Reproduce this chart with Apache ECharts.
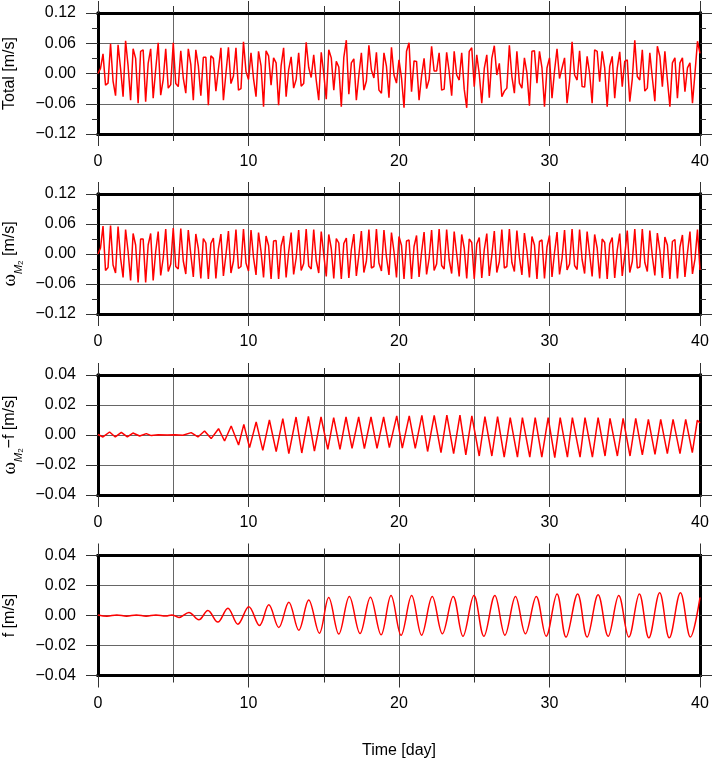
<!DOCTYPE html>
<html><head><meta charset="utf-8">
<script src="https://cdn.jsdelivr.net/npm/echarts@6/dist/echarts.min.js"></script>
<style>html,body{margin:0;padding:0;background:#fff}#c{width:714px;height:764px}</style>
</head><body><div id="c"></div>
<script>
// ---------------- data ----------------
const sampleStepDays = 4 / 24; // panels 1-2 are sampled every 4 hours
const xTickLabels = [0, 10, 20, 30, 40];
const upperTickLabels = [-0.12, -0.06, 0.00, 0.06, 0.12];
const lowerTickLabels = [-0.04, -0.02, 0.00, 0.02, 0.04];

const totalValues = [
 0.000, 0.010, 0.039,-0.023,-0.019, 0.059,-0.015,-0.044, 0.057, 0.010,
-0.046, 0.065, 0.015,-0.053, 0.049, 0.030,-0.059, 0.044, 0.047,-0.056,
 0.020, 0.049,-0.049, 0.008, 0.061,-0.043,-0.012, 0.049,-0.029,-0.022,
 0.061,-0.020,-0.026, 0.045,-0.009,-0.039, 0.049, 0.018,-0.053, 0.047,
 0.015,-0.044, 0.032, 0.032,-0.063, 0.035, 0.030,-0.035, 0.008, 0.051,
-0.053, 0.000, 0.052,-0.020,-0.005, 0.051,-0.033,-0.030, 0.063, 0.004,
-0.012, 0.041,-0.010,-0.046, 0.044, 0.015,-0.066, 0.045, 0.035,-0.023,
 0.031, 0.021,-0.063, 0.015, 0.051,-0.046, 0.007, 0.033,-0.029,-0.012,
 0.041,-0.025,-0.020, 0.062, 0.012,-0.008, 0.037,-0.013,-0.053, 0.042,
 0.000,-0.051, 0.047, 0.031,-0.033, 0.024, 0.013,-0.066, 0.032, 0.066,
-0.041, 0.021, 0.029,-0.053,-0.003, 0.041,-0.033,-0.015, 0.056, 0.007,
-0.009, 0.042,-0.033,-0.039, 0.041, 0.014,-0.048, 0.052,-0.003,-0.019,
 0.027,-0.009,-0.068, 0.044, 0.061,-0.036, 0.025, 0.024,-0.053,-0.005,
 0.030,-0.030,-0.012, 0.054, 0.005, 0.005, 0.041,-0.033,-0.031, 0.042,
 0.004,-0.044, 0.044,-0.003,-0.013, 0.041,-0.031,-0.068, 0.044, 0.051,
-0.026, 0.037,-0.001,-0.059, 0.010, 0.037,-0.048, 0.030, 0.055,-0.003,
 0.020,-0.046,-0.035,-0.029, 0.056,-0.006,-0.039, 0.044,-0.019,-0.029,
 0.031, 0.001,-0.064, 0.044, 0.045,-0.019, 0.044, 0.011,-0.066, 0.011,
 0.031,-0.049, 0.005, 0.049,-0.010, 0.011, 0.031,-0.059,-0.015, 0.063,
-0.003,-0.013, 0.045,-0.026,-0.027, 0.034, 0.000,-0.059, 0.047, 0.044,
-0.016, 0.044, 0.011,-0.066, 0.014, 0.034,-0.049, 0.010, 0.043,-0.026,
 0.024, 0.027,-0.056,-0.011, 0.066,-0.006,-0.013, 0.047,-0.035,-0.029,
 0.041,-0.009,-0.055, 0.054, 0.034,-0.026, 0.044,-0.013,-0.066, 0.021,
 0.031,-0.049, 0.021, 0.031,-0.036, 0.011, 0.021,-0.059, 0.001, 0.064,
 0.040
];

const omegaM2Values = [
 0.000, 0.012, 0.056,-0.033,-0.027, 0.057,-0.022,-0.038, 0.055,-0.008,
-0.047, 0.049, 0.005,-0.053, 0.041, 0.018,-0.057, 0.030, 0.030,-0.057,
 0.018, 0.041,-0.053, 0.005, 0.045,-0.043,-0.008, 0.050,-0.035,-0.020,
 0.052,-0.025,-0.030, 0.051,-0.014,-0.040, 0.048,-0.001,-0.046, 0.040,
 0.011,-0.049, 0.031, 0.022,-0.050, 0.021, 0.032,-0.049, 0.010, 0.040,
-0.044,-0.002, 0.046,-0.038,-0.014, 0.049,-0.029,-0.025, 0.050,-0.018,
-0.034, 0.048,-0.007,-0.042, 0.043, 0.005,-0.047, 0.036, 0.017,-0.050,
 0.026, 0.027,-0.050, 0.016, 0.036,-0.047, 0.004, 0.043,-0.041,-0.008,
 0.048,-0.033,-0.019, 0.050,-0.024,-0.030, 0.049,-0.013,-0.038, 0.045,
-0.001,-0.045, 0.039, 0.011,-0.049, 0.031, 0.022,-0.050, 0.021, 0.032,
-0.048, 0.009, 0.040,-0.044,-0.002, 0.046,-0.037,-0.014, 0.049,-0.028,
-0.025, 0.050,-0.018,-0.034, 0.048,-0.006,-0.042, 0.043, 0.005,-0.047,
 0.035, 0.017,-0.050, 0.026, 0.028,-0.050, 0.015, 0.037,-0.046, 0.003,
 0.044,-0.041,-0.009, 0.048,-0.033,-0.020, 0.050,-0.023,-0.030, 0.049,
-0.012,-0.039, 0.045, 0.000,-0.045, 0.039, 0.012,-0.049, 0.030, 0.023,
-0.050, 0.020, 0.033,-0.048, 0.009, 0.041,-0.044,-0.003, 0.046,-0.037,
-0.015, 0.049,-0.028,-0.025, 0.050,-0.017,-0.035, 0.047,-0.006,-0.042,
 0.042, 0.006,-0.047, 0.035, 0.018,-0.050, 0.025, 0.028,-0.049, 0.014,
 0.037,-0.046, 0.003, 0.044,-0.041,-0.009, 0.048,-0.032,-0.020, 0.050,
-0.023,-0.031, 0.049,-0.011,-0.039, 0.045, 0.000,-0.045, 0.039, 0.012,
-0.049, 0.030, 0.023,-0.050, 0.020, 0.033,-0.048, 0.008, 0.041,-0.044,
-0.003, 0.047,-0.037,-0.015, 0.050,-0.028,-0.026, 0.050,-0.017,-0.035,
 0.047,-0.005,-0.043, 0.042, 0.007,-0.048, 0.034, 0.018,-0.050, 0.025,
 0.029,-0.049, 0.014, 0.038,-0.046, 0.002, 0.045,-0.040,-0.010, 0.049,
-0.032
];

const omegaMinusF = [
[0,0.0003],[0.33,-0.0013],[0.77,0.0020],[1.15,-0.0013],[1.55,0.0018],[1.95,-0.0013],[2.32,0.0013],[2.77,-0.0007],
[3.21,0.0009],[3.54,-0.0004],[4.0,0.0002],[4.6,0.0000],[5.1,0.0002],[5.64,-0.0002],[6.19,0.0016],[6.64,-0.0013],
[7.08,0.0027],[7.52,-0.0024],[8.01,0.0042],[8.41,-0.0040],[8.85,0.0060],[9.34,-0.0067],[9.69,0.0071],[10.07,-0.0084],
[10.51,0.0087],[10.95,-0.0102],[11.39,0.0100],[11.84,-0.0111],[12.28,0.0109],[12.68,-0.0124],[13.16,0.0120],[13.54,-0.0120],
[13.98,0.0124],[14.38,-0.0107],[14.82,0.0120],[15.27,-0.0096],[15.66,0.0116],[16.08,-0.0096],[16.48,0.0120],[16.88,-0.0089],
[17.32,0.0120],[17.70,-0.0091],[18.14,0.0120],[18.54,-0.0089],[18.98,0.0120],[19.36,-0.0084],[19.85,0.0127],[20.22,-0.0087],
[20.68,0.0127],[21.08,-0.0089],[21.52,0.0131],[21.90,-0.0110],[22.34,0.0131],[22.79,-0.0118],[23.18,0.0133],[23.63,-0.0124],
[24.05,0.0133],[24.44,-0.0133],[24.84,0.0127],[25.33,-0.0140],[25.71,0.0122],[26.17,-0.0140],[26.55,0.0122],[26.99,-0.0147],
[27.39,0.0116],[27.87,-0.0147],[28.20,0.0116],[28.69,-0.0147],[29.05,0.0116],[29.49,-0.0147],[29.91,0.0116],[30.35,-0.0151],
[30.71,0.0116],[31.19,-0.0147],[31.52,0.0116],[32.03,-0.0147],[32.36,0.0116],[32.85,-0.0147],[33.23,0.0116],[33.69,-0.0140],
[34.02,0.0111],[34.51,-0.0140],[34.89,0.0111],[35.35,-0.0140],[35.73,0.0111],[36.17,-0.0133],[36.57,0.0104],[37.01,-0.0129],
[37.39,0.0104],[37.83,-0.0124],[38.21,0.0104],[38.67,-0.0124],[39.05,0.0104],[39.49,-0.0118],[39.82,0.0098],[40.0,0.0080]
];

const inertialF = [
[0,0.0004],[0.6,-0.0005],[1.25,0.0004],[1.9,-0.0005],[2.55,0.0004],[3.2,-0.0005],[3.85,0.0004],[4.5,-0.0004],
[4.9,0.0004],[5.38,-0.0013],[6.04,0.0020],[6.70,-0.0029],[7.30,0.0033],[7.96,-0.0044],[8.63,0.0049],[9.29,-0.0058],
[10.02,0.0058],[10.73,-0.0067],[11.35,0.0071],[12.01,-0.0080],[12.68,0.0089],[13.34,-0.0098],[14.00,0.0104],[14.71,-0.0118],
[15.33,0.0120],[16.00,-0.0124],[16.70,0.0127],[17.41,-0.0120],[18.10,0.0122],[18.81,-0.0129],[19.47,0.0133],[20.14,-0.0132],
[20.84,0.0133],[21.50,-0.0131],[22.21,0.0127],[22.88,-0.0122],[23.60,0.0127],[24.25,-0.0138],[24.98,0.0133],[25.64,-0.0138],
[26.37,0.0133],[27.04,-0.0131],[27.74,0.0127],[28.40,-0.0122],[29.12,0.0127],[29.78,-0.0138],[30.50,0.0144],[31.10,-0.0144],
[31.87,0.0144],[32.50,-0.0144],[33.23,0.0138],[33.90,-0.0138],[34.60,0.0133],[35.27,-0.0144],[35.97,0.0144],[36.60,-0.0149],
[37.32,0.0151],[37.96,-0.0149],[38.70,0.0151],[39.36,-0.0144],[40.0,0.0120]
];

// ---------------- chart ----------------
const FONT = 'Liberation Sans, Arial, Helvetica, sans-serif';
const minus = v => (v < -1e-9 ? '\u2212' : '') + Math.abs(v).toFixed(2);
const toSeries = vals => vals.map((v, k) => [k * sampleStepDays, v]);

const subRich = {
  t: {fontFamily: FONT, fontSize: 16, lineHeight: 30, color: '#000'},
  w: {fontFamily: 'Liberation Serif, DejaVu Serif, serif', fontSize: 19, lineHeight: 30, color: '#000'},
  m: {fontFamily: FONT, fontSize: 11, fontStyle: 'italic', lineHeight: 16, verticalAlign: 'bottom', color: '#000'},
  n: {fontFamily: FONT, fontSize: 8, lineHeight: 10, verticalAlign: 'bottom', color: '#000'}
};

const panels = [
  {top: 13,    height: 121, ticks: upperTickLabels, minor: true,  name: '{t|Total [m/s]}', data: toSeries(totalValues), smooth: false},
  {top: 194,   height: 120, ticks: upperTickLabels, minor: true,  name: '{w|\u03c9}{m|M}{n|2}{t| [m/s]}', data: toSeries(omegaM2Values), smooth: false},
  {top: 375,   height: 120, ticks: lowerTickLabels, minor: false, name: '{w|\u03c9}{m|M}{n|2}{t|\u2212f [m/s]}', data: omegaMinusF, smooth: false},
  {top: 555.5, height: 120, ticks: lowerTickLabels, minor: false, name: '{t|f [m/s]}', data: inertialF, smooth: 0.36}
];

const frame = {show: true, onZero: false, lineStyle: {color: '#000', width: 3, cap: 'square'}};
const tickStyle = {color: '#333', width: 1};
const gridLine = {color: '#666', width: 1};

const grid = [], xAxis = [], yAxis = [], series = [];
panels.forEach((p, i) => {
  grid.push({left: 98, width: 602, top: p.top, height: p.height, containLabel: false, outerBoundsMode: 'none'});
  const xMin = xTickLabels[0], xMax = xTickLabels[xTickLabels.length - 1];
  const xStep = xTickLabels[1] - xTickLabels[0];
  const last = i === panels.length - 1;
  xAxis.push({
    type: 'value', gridIndex: i, position: 'bottom', min: xMin, max: xMax, interval: xStep,
    axisLine: frame,
    axisTick: {show: true, length: 12, lineStyle: tickStyle},
    minorTick: {show: true, splitNumber: 2, length: 7, lineStyle: tickStyle},
    splitLine: {show: true, lineStyle: gridLine},
    minorSplitLine: {show: true, lineStyle: gridLine},
    axisLabel: {show: true, fontFamily: FONT, fontSize: 16, color: '#000', margin: 20},
    name: last ? 'Time [day]' : '', nameLocation: 'middle', nameGap: 65,
    nameTextStyle: {fontFamily: FONT, fontSize: 16, color: '#000', lineHeight: 20}
  });
  xAxis.push({
    type: 'value', gridIndex: i, position: 'top', min: xMin, max: xMax, interval: xStep,
    axisLine: frame,
    axisTick: {show: true, length: 12, lineStyle: tickStyle},
    minorTick: {show: true, splitNumber: 2, length: 7, lineStyle: tickStyle},
    splitLine: {show: false}, axisLabel: {show: false}
  });
  const yMin = p.ticks[0], yMax = p.ticks[p.ticks.length - 1], yStep = p.ticks[1] - p.ticks[0];
  yAxis.push({
    type: 'value', gridIndex: i, position: 'left', min: yMin, max: yMax, interval: yStep,
    axisLine: frame,
    axisTick: {show: true, length: 12, lineStyle: tickStyle},
    minorTick: {show: p.minor, splitNumber: 2, length: 6, lineStyle: tickStyle},
    splitLine: {show: true, lineStyle: gridLine},
    axisLabel: {show: true, fontFamily: FONT, fontSize: 16, color: '#000', margin: 22, formatter: minus},
    name: p.name, nameLocation: 'middle', nameRotate: 90, nameGap: 73,
    nameTextStyle: {rich: subRich, lineHeight: 30}
  });
  yAxis.push({
    type: 'value', gridIndex: i, position: 'right', min: yMin, max: yMax, interval: yStep,
    axisLine: frame,
    axisTick: {show: true, length: 12, lineStyle: tickStyle},
    minorTick: {show: p.minor, splitNumber: 2, length: 6, lineStyle: tickStyle},
    splitLine: {show: false}, axisLabel: {show: false}
  });
  series.push({
    type: 'line', xAxisIndex: 2 * i, yAxisIndex: 2 * i, data: p.data,
    showSymbol: false, symbol: 'none', smooth: p.smooth, clip: true,
    lineStyle: {color: '#ff0000', width: 1.5}, z: 3
  });
});

const chart = echarts.init(document.getElementById('c'), null, {renderer: 'canvas'});
chart.setOption({
  animation: false,
  backgroundColor: '#fff',
  textStyle: {fontFamily: FONT},
  grid, xAxis, yAxis, series
});
</script>
</body></html>
